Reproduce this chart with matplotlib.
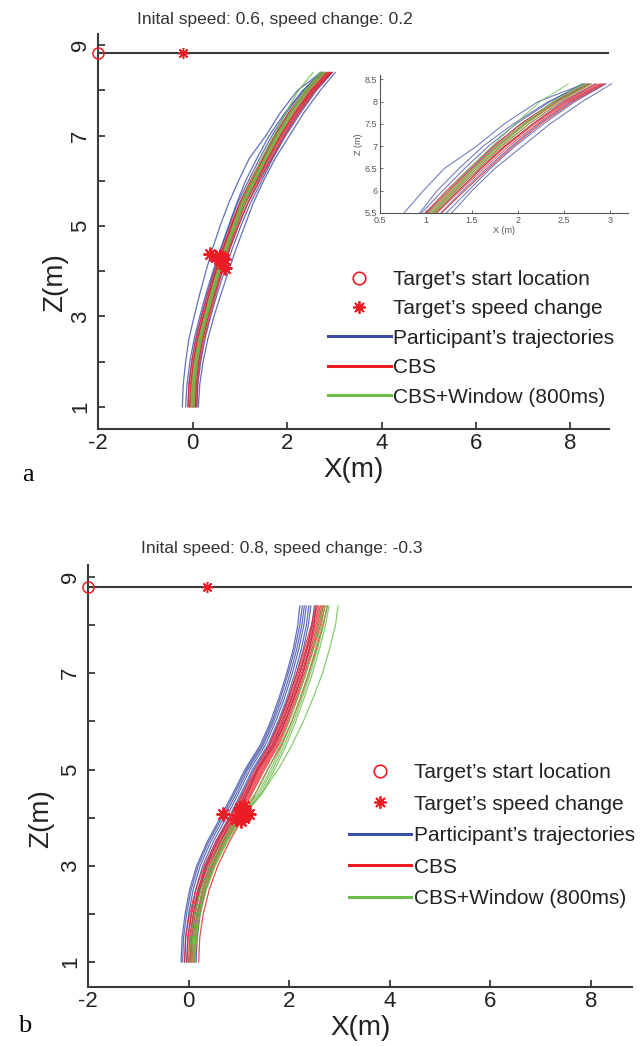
import matplotlib
matplotlib.use("Agg")
import matplotlib.pyplot as plt
from matplotlib.lines import Line2D
from matplotlib.ticker import FixedLocator, FixedFormatter

plt.rcParams['font.family'] = ['Liberation Sans Narrow', 'Liberation Sans', 'DejaVu Sans']
plt.rcParams['axes.unicode_minus'] = False

# heights (m) at which every path is sampled
z_steps = [1.0, 1.5, 2.0, 2.5, 3.0, 3.5, 4.0, 4.5, 5.0, 5.5, 6.0, 6.5, 7.0, 7.5, 8.0, 8.4]

# ---- condition a : initial speed 0.6, speed change 0.2
a_title = "Inital speed: 0.6, speed change: 0.2"
a_lane_z = 8.83
a_start_x = -2.0
a_switch_x = -0.2
a_participant = [
    [-0.22, -0.20, -0.15, -0.08, 0.03, 0.15, 0.28, 0.42, 0.58, 0.76, 0.97, 1.20, 1.55, 1.85, 2.22, 2.72],
    [0.12, 0.15, 0.22, 0.32, 0.45, 0.60, 0.76, 0.92, 1.10, 1.28, 1.50, 1.75, 2.05, 2.35, 2.70, 3.02],
    [-0.10, -0.08, -0.02, 0.06, 0.18, 0.31, 0.45, 0.60, 0.77, 0.95, 1.18, 1.42, 1.68, 1.98, 2.35, 2.70],
    [0.02, 0.04, 0.09, 0.17, 0.29, 0.42, 0.57, 0.73, 0.90, 1.10, 1.35, 1.60, 1.86, 2.16, 2.50, 2.85],
    [-0.15, -0.12, -0.06, 0.03, 0.15, 0.28, 0.43, 0.59, 0.76, 0.93, 1.12, 1.36, 1.62, 1.95, 2.33, 2.74],
    [0.06, 0.08, 0.13, 0.21, 0.33, 0.47, 0.62, 0.78, 0.96, 1.16, 1.40, 1.66, 1.93, 2.23, 2.58, 2.93],
    [-0.05, -0.03, 0.02, 0.10, 0.22, 0.35, 0.49, 0.65, 0.82, 1.00, 1.24, 1.49, 1.74, 2.03, 2.40, 2.77],
    [0.09, 0.11, 0.17, 0.26, 0.38, 0.52, 0.67, 0.84, 1.02, 1.22, 1.46, 1.70, 1.97, 2.28, 2.62, 2.96],
]
a_cbs = [
    [-0.05, -0.03, 0.03, 0.12, 0.24, 0.37, 0.51, 0.67, 0.84, 1.03, 1.27, 1.52, 1.78, 2.08, 2.44, 2.80],
    [0.00, 0.02, 0.08, 0.17, 0.29, 0.42, 0.56, 0.72, 0.89, 1.08, 1.32, 1.58, 1.85, 2.16, 2.52, 2.88],
    [0.05, 0.07, 0.12, 0.21, 0.33, 0.46, 0.60, 0.76, 0.93, 1.12, 1.37, 1.63, 1.90, 2.21, 2.56, 2.92],
    [-0.10, -0.08, -0.02, 0.07, 0.19, 0.32, 0.47, 0.63, 0.80, 0.99, 1.22, 1.47, 1.73, 2.03, 2.39, 2.76],
    [0.08, 0.10, 0.15, 0.24, 0.36, 0.49, 0.63, 0.79, 0.97, 1.17, 1.42, 1.68, 1.95, 2.25, 2.60, 2.95],
    [-0.02, 0.00, 0.06, 0.15, 0.27, 0.40, 0.54, 0.70, 0.87, 1.06, 1.30, 1.55, 1.82, 2.12, 2.48, 2.84],
    [0.03, 0.05, 0.10, 0.19, 0.31, 0.44, 0.58, 0.74, 0.91, 1.10, 1.35, 1.60, 1.87, 2.18, 2.54, 2.90],
    [-0.07, -0.05, 0.01, 0.10, 0.22, 0.35, 0.49, 0.65, 0.82, 1.01, 1.25, 1.50, 1.76, 2.06, 2.42, 2.78],
]
a_window = [
    [-0.04, -0.02, 0.04, 0.13, 0.25, 0.38, 0.52, 0.68, 0.85, 1.02, 1.24, 1.47, 1.72, 1.97, 2.24, 2.55],
    [0.00, 0.02, 0.07, 0.16, 0.28, 0.41, 0.55, 0.71, 0.88, 1.06, 1.29, 1.53, 1.79, 2.07, 2.39, 2.70],
    [-0.02, 0.00, 0.06, 0.15, 0.27, 0.40, 0.54, 0.70, 0.87, 1.05, 1.28, 1.52, 1.77, 2.06, 2.38, 2.74],
    [0.03, 0.05, 0.10, 0.19, 0.31, 0.44, 0.58, 0.74, 0.91, 1.10, 1.33, 1.57, 1.83, 2.12, 2.46, 2.80],
    [0.01, 0.03, 0.08, 0.17, 0.29, 0.42, 0.56, 0.72, 0.89, 1.08, 1.31, 1.55, 1.80, 2.09, 2.43, 2.77],
]
a_change_x = [0.37, 0.50, 0.55, 0.58, 0.62, 0.66, 0.60, 0.68]
a_change_z = [4.38, 4.32, 4.28, 4.33, 4.30, 4.27, 4.22, 4.07]

# ---- condition b : initial speed 0.8, speed change -0.3
b_title = "Inital speed: 0.8, speed change: -0.3"
b_lane_z = 8.79
b_start_x = -2.0
b_switch_x = 0.36
b_participant = [
    [-0.15, -0.13, -0.07, 0.02, 0.16, 0.37, 0.63, 0.88, 1.12, 1.42, 1.63, 1.80, 1.95, 2.08, 2.17, 2.21],
    [-0.08, -0.06, 0.00, 0.09, 0.23, 0.44, 0.70, 0.95, 1.18, 1.48, 1.69, 1.87, 2.02, 2.15, 2.25, 2.30],
    [0.02, 0.04, 0.10, 0.19, 0.33, 0.54, 0.80, 1.04, 1.27, 1.57, 1.78, 1.96, 2.11, 2.24, 2.34, 2.39],
    [0.10, 0.12, 0.18, 0.28, 0.42, 0.63, 0.89, 1.13, 1.36, 1.66, 1.87, 2.05, 2.21, 2.35, 2.45, 2.50],
    [-0.04, -0.02, 0.05, 0.14, 0.28, 0.49, 0.75, 0.99, 1.22, 1.52, 1.73, 1.91, 2.06, 2.19, 2.29, 2.34],
    [0.15, 0.17, 0.23, 0.33, 0.47, 0.68, 0.94, 1.17, 1.38, 1.70, 1.92, 2.10, 2.27, 2.40, 2.49, 2.53],
    [0.05, 0.07, 0.13, 0.22, 0.36, 0.57, 0.83, 1.07, 1.30, 1.60, 1.81, 1.99, 2.15, 2.28, 2.38, 2.43],
    [-0.12, -0.10, -0.04, 0.05, 0.19, 0.40, 0.66, 0.91, 1.15, 1.45, 1.66, 1.83, 1.98, 2.11, 2.21, 2.26],
]
b_cbs = [
    [-0.08, -0.06, 0.02, 0.14, 0.31, 0.54, 0.82, 1.08, 1.33, 1.60, 1.81, 1.99, 2.15, 2.30, 2.44, 2.53],
    [0.00, 0.02, 0.09, 0.21, 0.38, 0.61, 0.88, 1.14, 1.39, 1.66, 1.87, 2.05, 2.21, 2.36, 2.50, 2.59],
    [0.07, 0.09, 0.16, 0.28, 0.45, 0.68, 0.95, 1.20, 1.45, 1.72, 1.93, 2.11, 2.27, 2.42, 2.56, 2.65],
    [0.13, 0.15, 0.22, 0.34, 0.51, 0.74, 1.01, 1.26, 1.51, 1.78, 1.99, 2.17, 2.33, 2.48, 2.62, 2.71],
    [0.20, 0.22, 0.29, 0.41, 0.58, 0.81, 1.08, 1.33, 1.57, 1.84, 2.05, 2.23, 2.39, 2.54, 2.67, 2.76],
    [0.03, 0.05, 0.12, 0.24, 0.41, 0.64, 0.91, 1.17, 1.42, 1.69, 1.90, 2.08, 2.24, 2.39, 2.53, 2.62],
    [0.10, 0.12, 0.19, 0.31, 0.48, 0.71, 0.98, 1.23, 1.48, 1.75, 1.96, 2.14, 2.30, 2.45, 2.59, 2.68],
    [-0.03, -0.01, 0.06, 0.18, 0.35, 0.58, 0.85, 1.11, 1.36, 1.63, 1.84, 2.02, 2.18, 2.33, 2.47, 2.56],
]
b_window = [
    [0.02, 0.04, 0.12, 0.24, 0.42, 0.66, 0.96, 1.33, 1.58, 1.81, 2.00, 2.17, 2.33, 2.47, 2.59, 2.66],
    [0.06, 0.08, 0.16, 0.28, 0.46, 0.70, 1.00, 1.38, 1.63, 1.86, 2.05, 2.22, 2.38, 2.52, 2.64, 2.71],
    [0.10, 0.12, 0.20, 0.32, 0.50, 0.74, 1.04, 1.42, 1.67, 1.90, 2.09, 2.26, 2.42, 2.56, 2.68, 2.75],
    [0.13, 0.15, 0.23, 0.35, 0.53, 0.77, 1.07, 1.46, 1.71, 1.94, 2.13, 2.30, 2.46, 2.60, 2.72, 2.79],
    [0.10, 0.12, 0.20, 0.32, 0.50, 0.74, 1.05, 1.45, 1.78, 2.05, 2.28, 2.48, 2.66, 2.80, 2.92, 2.97],
]
b_change_x = [0.68, 0.95, 1.00, 1.05, 1.10, 1.15, 1.20, 1.02, 1.10]
b_change_z = [4.07, 3.98, 4.05, 3.92, 4.25, 4.10, 4.08, 4.20, 4.00]

legend_labels = ["Target\u2019s start location", "Target\u2019s speed change",
                 "Participant\u2019s trajectories", "CBS", "CBS+Window (800ms)"]

BLUE = "#3b4da6"
RED = "#ec1c24"
GREEN = "#6cbd4a"
DARK = "#3a3a3a"
STAR = (8, 2, 0)


def draw_paths(ax, participant, cbs, window, lw=0.9):
    for xs in participant:
        ax.plot(xs, z_steps, color=BLUE, lw=lw, alpha=0.8)
    for xs in cbs:
        ax.plot(xs, z_steps, color=RED, lw=lw, alpha=0.8)
    for xs in window:
        ax.plot(xs, z_steps, color=GREEN, lw=lw, alpha=0.8)


def draw_panel(ax, participant, cbs, window, lane_z, start_x, switch_x, cx, cz, zmin):
    draw_paths(ax, participant, cbs, window)
    ax.axhline(lane_z, color=DARK, lw=1.5, zorder=1)
    ax.plot(start_x, lane_z, 'o', mfc='none', mec=RED, ms=8, mew=1.1, clip_on=False, zorder=5)
    ax.plot(switch_x, lane_z, marker=STAR, color=RED, ms=8, mew=1.1, ls='none', zorder=5)
    ax.plot(cx, cz, marker=STAR, color=RED, ms=10, mew=1.4, ls='none', zorder=5)

    ax.set_xlim(-2, 8.82)
    ax.set_ylim(zmin, 9.25)
    for side in ('top', 'right'):
        ax.spines[side].set_visible(False)
    for side in ('left', 'bottom'):
        ax.spines[side].set_color(DARK)
        ax.spines[side].set_linewidth(1.5)
    ax.xaxis.set_major_locator(FixedLocator([-2, 0, 2, 4, 6, 8]))
    yt = list(range(1, 10))
    ax.yaxis.set_major_locator(FixedLocator(yt))
    ax.yaxis.set_major_formatter(FixedFormatter([str(v) if v % 2 else "" for v in yt]))
    ax.tick_params(direction='in', length=5, width=1.3, color=DARK,
                   labelsize=16, labelcolor='#222222')
    ax.tick_params(axis='x', pad=3)
    ax.tick_params(axis='y', pad=5)
    for lab in ax.get_yticklabels():
        lab.set_rotation(90)
        lab.set_va('center')
    ax.set_xlabel("X(m)", fontsize=20, color='#222222', labelpad=2)
    ax.set_ylabel("Z(m)", fontsize=20, color='#222222')


def add_legend(ax, anchor, spacing):
    handles = [
        Line2D([], [], ls='none', marker='o', mfc='none', mec=RED, ms=9, mew=1.2),
        Line2D([], [], ls='none', marker=STAR, color=RED, ms=9, mew=1.3),
        Line2D([], [], color=BLUE, lw=2.2),
        Line2D([], [], color=RED, lw=2.2),
        Line2D([], [], color=GREEN, lw=2.2),
    ]
    leg = ax.legend(handles, legend_labels, loc='upper left', bbox_to_anchor=anchor,
                    bbox_transform=ax.figure.transFigure, frameon=False, fontsize=15,
                    handlelength=3.0, handletextpad=0.1, labelspacing=spacing,
                    borderpad=0, borderaxespad=0, numpoints=1)
    for t in leg.get_texts():
        t.set_color('#222222')


fig = plt.figure(figsize=(6.4, 10.46), dpi=100)

ax_a = fig.add_axes([0.1536, 0.5899, 0.798, 0.3776])
draw_panel(ax_a, a_participant, a_cbs, a_window, a_lane_z, a_start_x, a_switch_x,
           a_change_x, a_change_z, 0.51)
ax_a.yaxis.set_label_coords(-0.06, 0.37)
add_legend(ax_a, (0.5125, 0.742), 0.5)

# zoomed view of the upper part of the paths
ins = fig.add_axes([0.594, 0.7964, 0.3875, 0.132])
draw_paths(ins, a_participant, a_cbs, a_window, lw=0.7)
ins.set_xlim(0.5, 3.2)
ins.set_ylim(5.5, 8.6)
ins.set_xticks([0.5, 1, 1.5, 2, 2.5, 3])
ins.set_xticklabels(["0.5", "1", "1.5", "2", "2.5", "3"])
ins.set_yticks([5.5, 6, 6.5, 7, 7.5, 8, 8.5])
ins.set_yticklabels(["5.5", "6", "6.5", "7", "7.5", "8", "8.5"])
for side in ('top', 'right'):
    ins.spines[side].set_visible(False)
for side in ('left', 'bottom'):
    ins.spines[side].set_color('#555555')
    ins.spines[side].set_linewidth(0.8)
ins.tick_params(direction='in', length=2.5, width=0.6, color='#555555',
                labelsize=6.5, labelcolor='#555555', pad=2)
ins.set_xlabel("X (m)", fontsize=6.5, color='#555555', labelpad=1)
ins.set_ylabel("Z (m)", fontsize=6.5, color='#555555', labelpad=1)

ax_b = fig.add_axes([0.1375, 0.0564, 0.8505, 0.4034])
draw_panel(ax_b, b_participant, b_cbs, b_window, b_lane_z, b_start_x, b_switch_x,
           b_change_x, b_change_z, 0.48)
ax_b.yaxis.set_label_coords(-0.0625, 0.40)
add_legend(ax_b, (0.5453, 0.2705), 0.6)

fig.text(0.43, 0.981, a_title, ha='center', va='center', fontsize=12.5, color='#333333')
fig.text(0.44, 0.476, b_title, ha='center', va='center', fontsize=12.5, color='#333333')
fig.text(0.044, 0.546, "a", family=['Liberation Serif', 'DejaVu Serif'], fontsize=19,
         ha='center', va='center')
fig.text(0.039, 0.019, "b", family=['Liberation Serif', 'DejaVu Serif'], fontsize=19,
         ha='center', va='center')

fig.savefig("out.png", dpi=100)
